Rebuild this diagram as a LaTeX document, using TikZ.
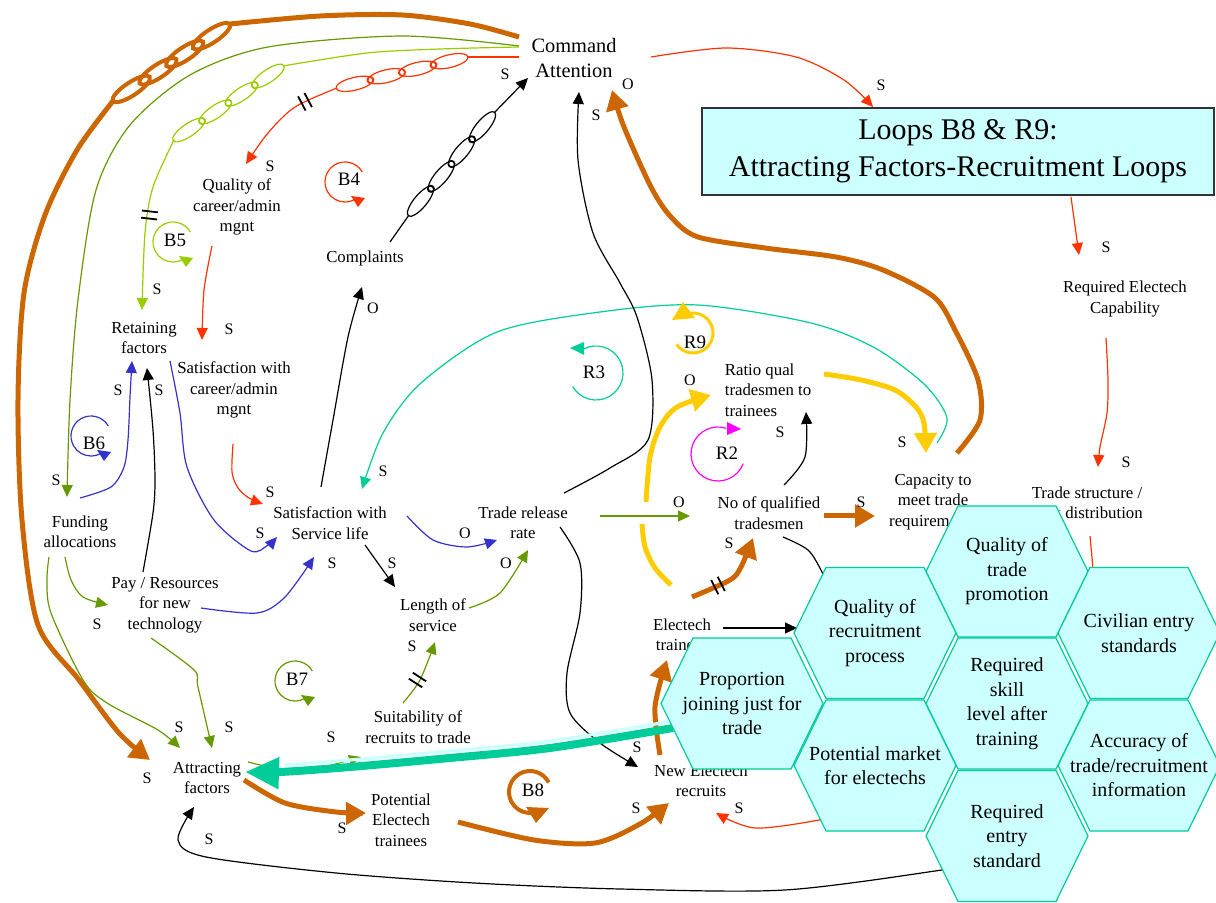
\documentclass[tikz,border=0pt]{standalone}
\usepackage{fontspec}
\setmainfont{Liberation Serif}
\usetikzlibrary{arrows.meta,calc,decorations.markings}
\pgfdeclarelayer{edges}
\pgfsetlayers{edges,main}

\definecolor{cOrange}{HTML}{CC6600}
\definecolor{cYellow}{HTML}{FFCC00}
\definecolor{cTeal}{HTML}{00CC99}
\definecolor{cRed}{HTML}{FF3300}
\definecolor{cYG}{HTML}{99CC00}
\definecolor{cOlive}{HTML}{669900}
\definecolor{cBlue}{HTML}{3333CC}
\definecolor{cMag}{HTML}{FF00FF}
\definecolor{cCyan}{HTML}{CCFFFF}

\tikzset{
  var/.style={font=\fontsize{8.4}{10.25}\selectfont, align=center, inner sep=0pt},
  pol/.style={font=\fontsize{8}{9}\selectfont, inner sep=0pt},
  looplbl/.style={font=\fontsize{9.5}{11}\selectfont, inner sep=0pt},
  hexlbl/.style={font=\fontsize{10}{12.25}\selectfont, align=center, inner sep=0pt},
  hexcell/.style={draw=cTeal, fill=cCyan, line width=0.6pt},
  link/.style={line width=0.6pt, -{Triangle[length=6pt,width=5.5pt]}},
  plain/.style={line width=0.6pt},
  fat/.style={line width=2.5pt, -{Triangle[length=10pt,width=11pt]}},
  fatplain/.style={line width=2.5pt},
  delaymark/.style={decoration={markings, mark=at position 0.5 with {%
      \draw[black, line width=0.9pt] (-1.8pt,-4pt) -- (-1.8pt,4pt) (1.8pt,-4pt) -- (1.8pt,4pt);}},
    decorate},
  chainfour/.style={decoration={markings,
      mark=at position 0.135 with {\draw[#1] (0,0) ellipse [x radius=9.5pt, y radius=3.2pt];},
      mark=at position 0.257 with {\draw[#1] (0,0) circle [radius=1.7pt];},
      mark=at position 0.38 with {\draw[#1] (0,0) ellipse [x radius=9.5pt, y radius=3.2pt];},
      mark=at position 0.5 with {\draw[#1] (0,0) circle [radius=1.7pt];},
      mark=at position 0.62 with {\draw[#1] (0,0) ellipse [x radius=9.5pt, y radius=3.2pt];},
      mark=at position 0.742 with {\draw[#1] (0,0) circle [radius=1.7pt];},
      mark=at position 0.865 with {\draw[#1] (0,0) ellipse [x radius=9.5pt, y radius=3.2pt];}},
    decorate},
  chainorange/.style={decoration={markings,
      mark=at position 0.157 with {\draw[cOrange, line width=2pt] (0,0) ellipse [x radius=11pt, y radius=3.3pt];},
      mark=at position 0.386 with {\draw[cOrange, line width=2pt] (0,0) ellipse [x radius=11pt, y radius=3.3pt];},
      mark=at position 0.614 with {\draw[cOrange, line width=2pt] (0,0) ellipse [x radius=11pt, y radius=3.3pt];},
      mark=at position 0.843 with {\draw[cOrange, line width=2pt] (0,0) ellipse [x radius=11pt, y radius=3.3pt];}},
    decorate},
  pics/bloop/.style={code={
      \draw (-30:20) arc[start angle=-30, end angle=-305, radius=20];
      \fill (6,14) -- (20,16) -- (13,25) -- cycle;}},
}

% one hexagonal factor cell: name, centre x, centre y, text
\newcommand\honeycell[4]{%
  \filldraw[hexcell] (#2-81,#3) -- (#2-49,#3-65.5) -- (#2+49,#3-65.5) -- (#2+81,#3)
    -- (#2+49,#3+65.5) -- (#2-49,#3+65.5) -- cycle;
  \node[hexlbl] (#1) at (#2,#3) {#4};}

\begin{document}
\begin{tikzpicture}[x=0.5pt, y=-0.5pt]
\useasboundingbox (0,0) rectangle (1216,903);

% ---------------- variables ----------------
\node[var, font=\fontsize{10.2}{12.5}\selectfont] (cmd) at (574,58) {Command\\Attention};
\node[var] (qcm) at (237,207) {Quality of\\career/admin\\mgnt};
\node[var] (comp) at (365,258) {Complaints};
\node[var] (ret) at (144,338) {Retaining\\factors};
\node[var] (scm) at (234,390) {Satisfaction with\\career/admin\\mgnt};
\node[var] (fund) at (80,532) {Funding\\allocations};
\node[var] (pay) at (165,605) {Pay / Resources\\for new\\technology};
\node[var] (ssl) at (330,523) {Satisfaction with\\Service life};
\node[var] (trr) at (523,523) {Trade release\\rate};
\node[var] (los) at (433,615) {Length of\\service};
\node[var] (suit) at (418,727) {Suitability of\\recruits to trade};
\node[var] (att) at (207,778) {Attracting\\factors};
\node[var] (pet) at (401,820) {Potential\\Electech\\trainees};
\node[var, align=left] (ratio) at (768,390) {Ratio qual\\tradesmen to\\trainees};
\node[var] (nqt) at (769,513) {No of qualified\\tradesmen};
\node[var] (cap) at (933,502) {Capacity to\\meet trade\\requirements};
\node[var] (rec) at (1125,299) {Required Electech\\Capability};
\node[var] (tsr) at (1087,503) {Trade structure /\\rank distribution};
\node[var] (etr) at (682,635) {Electech\\trainees};
\node[var] (ner) at (701,781) {New Electech\\recruits};

% ---------------- loop labels ----------------
\node[looplbl] (lB4) at (349,179) {B4};
\node[looplbl] (lB5) at (175,240) {B5};
\node[looplbl] (lB6) at (94,443) {B6};
\node[looplbl] (lB7) at (297,679) {B7};
\node[looplbl] (lB8) at (533,790) {B8};
\node[looplbl] (lR3) at (594,372) {R3};
\node[looplbl] (lR9) at (695,342) {R9};
\node[looplbl] (lR2) at (727,453) {R2};

% ---------------- polarity marks ----------------
\node[pol] (p1) at (505,74) {S};
\node[pol] (p2) at (628,84) {O};
\node[pol] (p3) at (596,115) {S};
\node[pol] (p4) at (881,85) {S};
\node[pol] (p5) at (270,166) {S};
\node[pol] (p6) at (157,289) {S};
\node[pol] (p7) at (229,329) {S};
\node[pol] (p8) at (118,390) {S};
\node[pol] (p9) at (159,390) {S};
\node[pol] (p10) at (373,308) {O};
\node[pol] (p11) at (56,480) {S};
\node[pol] (p12) at (270,492) {S};
\node[pol] (p13) at (260,533) {S};
\node[pol] (p14) at (383,471) {S};
\node[pol] (p15) at (332,563) {S};
\node[pol] (p16) at (392,563) {S};
\node[pol] (p17) at (465,533) {O};
\node[pol] (p18) at (506,563) {O};
\node[pol] (p19) at (97,624) {S};
\node[pol] (p20) at (179,727) {S};
\node[pol] (p21) at (229,727) {S};
\node[pol] (p22) at (147,778) {S};
\node[pol] (p23) at (331,737) {S};
\node[pol] (p24) at (412,646) {S};
\node[pol] (p25) at (342,828) {S};
\node[pol] (p26) at (209,839) {S};
\node[pol] (p27) at (636,808) {S};
\node[pol] (p28) at (637,747) {S};
\node[pol] (p29) at (739,808) {S};
\node[pol] (p30) at (679,502) {O};
\node[pol] (p31) at (729,543) {S};
\node[pol] (p32) at (690,380) {O};
\node[pol] (p33) at (780,432) {S};
\node[pol] (p34) at (902,442) {S};
\node[pol] (p35) at (861,502) {S};
\node[pol] (p36) at (1106,247) {S};
\node[pol] (p37) at (1126,462) {S};

% ---------------- honeycomb of factors ----------------
\honeycell{qtp}{1007}{571.5}{Quality of\\trade\\promotion}
\honeycell{qrp}{875}{633}{Quality of\\recruitment\\process}
\honeycell{civ}{1139}{633}{Civilian entry\\standards}
\honeycell{prop}{742}{703.5}{Proportion\\joining just for\\trade}
\honeycell{rsk}{1007}{703.5}{Required\\skill\\level after\\training}
\honeycell{pmk}{875}{765.5}{Potential market\\for electechs}
\honeycell{acc}{1139}{765.5}{Accuracy of\\trade/recruitment\\information}
\honeycell{res}{1007}{836}{Required\\entry\\standard}

% ---------------- title ----------------
\node[draw=black!80, fill=cCyan, line width=0.6pt, minimum width=256pt, minimum height=43.5pt,
      inner sep=0pt, align=center, font=\fontsize{15}{18.5}\selectfont]
  (title) at (958,151.5) {Loops B8 \& R9:\\Attracting Factors-Recruitment Loops};

% ---------------- connectors ----------------
\begin{pgfonlayer}{edges}
\coordinate (chO1) at (113,101);
\coordinate (chO2) at (230,24);
\coordinate (chG1) at (174,140);
\coordinate (chG2) at (283,66);
\coordinate (chR1) at (337,88);
\coordinate (chR2) at (467,57);
\coordinate (chK1) at (409,215);
\coordinate (chK2) at (494,113);
\coordinate (yb1) at (642,524);
\coordinate (yb2) at (646,502);
\coordinate (hidT) at (1095,590);
\coordinate (hidN) at (835,600);
\coordinate (hidR) at (840,812);
\coordinate (hidB) at (958,866);

% Command Attention -> Attracting factors
\draw[fatplain, cOrange] plot[smooth] coordinates {($(cmd)+(-55,-21)$) (470,24) (402,15) (320,16) (chO2)};
\path[chainorange] (chO1) -- (chO2);
\draw[fat, cOrange] plot[smooth] coordinates {(chO1) (77,150) (45,215) (24,293) (18,400) (22,520) (38,625) (79,680) (119,733) ($(att)+(-57,-18)$)};

% Command Attention -> Funding allocations
\draw[link, cOlive] plot[smooth] coordinates {($(cmd)+(-55,-12)$) (402,36) (268,47) (190,75) (130,125) (96,190) (78,300) (70,400) ($(fund)+(-13,-35)$)};

% Command Attention -> Retaining factors
\draw[plain, cYG] plot[smooth] coordinates {($(cmd)+(-55,-11)$) (440,49) (367,53) (chG2)};
\path[chainfour={cYG, line width=0.6pt}] (chG1) -- (chG2);
\draw[link, cYG] plot[smooth] coordinates {(chG1) (153,187) (145,233) ($(ret)+(-2,-28)$)};
\path[delaymark] (150.4,207) -- (148.6,223);

% Command Attention -> Quality of career/admin mgnt
\draw[plain, cRed] ($(cmd)+(-55,-1)$) -- (chR2);
\path[chainfour={cRed, line width=0.6pt}] (chR1) -- (chR2);
\draw[link, cRed] plot[smooth] coordinates {(chR1) (295,107) (268,133) ($(qcm)+(9,-43)$)};
\path[delaymark] (296,106.5) -- (314,97);

% Complaints -> Command Attention
\draw[plain] ($(comp)+(25,-16)$) -- (chK1);
\path[chainfour={black, line width=0.6pt}] (chK1) -- (chK2);
\draw[link] (chK2) -- ($(cmd)+(-46,20)$);

% career/admin chain
\draw[link, cRed] plot[smooth] coordinates {($(qcm)+(-25,39)$) (204,290) ($(scm)+(-32,-50)$)};
\draw[link, cRed] plot[smooth] coordinates {($(scm)+(-1,54)$) (232,472) (238,488) (249,498) ($(ssl)+(-67,-19)$)};

% retaining / funding / pay
\draw[link, cBlue] plot[smooth] coordinates {($(ret)+(26,23)$) (180,413) (187,467) (214,520) (251,551) (268,545) ($(ssl)+(-53,14)$)};
\draw[link, cBlue] plot[smooth] coordinates {($(fund)+(0,-34)$) (111,487) (124,467) (128,440) (130,397) ($(ret)+(-12,23)$)};
\draw[link] plot[smooth] coordinates {($(pay)+(-22,-33)$) (153,513) (155,480) (153,430) ($(ret)+(3,30)$)};
\draw[link, cBlue] plot[smooth] coordinates {($(pay)+(36,3)$) (257,613) (285,597) ($(ssl)+(-16,34)$)};
\draw[link, cOlive] plot[smooth] coordinates {($(fund)+(-15,25)$) (71,580) (83,597) ($(pay)+(-57,0)$)};
\draw[link, cOlive] plot[smooth] coordinates {($(fund)+(-31,25)$) (47,580) (51,613) (83,680) (107,703) (158,730) ($(att)+(-27,-30)$)};
\draw[link, cOlive] plot[smooth] coordinates {($(pay)+(-14,33)$) (194,670) (198,687) ($(att)+(5,-30)$)};

% service life
\draw[link] plot[smooth] coordinates {($(ssl)+(-9,-36)$) (333,420) (348,337) ($(comp)+(-3,29)$)};
\draw[link, cTeal] plot[smooth] coordinates {($(cap)+(4,-59)$) (947,418) (925,385) (875,348) (811,323) (698,305) (600,312) (497,332) (421,383) (383,433) ($(ssl)+(32,-34)$)};
\draw[link, cBlue] plot[smooth] coordinates {($(ssl)+(77,-7)$) (433,540) (467,547) ($(trr)+(-26,17)$)};
\draw[link] ($(ssl)+(35,22)$) -- ($(los)+(-38,-28)$);
\draw[link, cOlive] plot[smooth] coordinates {($(los)+(36,-7)$) (500,593) ($(trr)+(5,27)$)};
\draw[link, cOlive] plot[smooth] coordinates {($(suit)+(-15,-24)$) (420,680) ($(los)+(2,27)$)};
\path[delaymark] (411,690) -- (424,670);

% trade release rate
\draw[link] plot[smooth] coordinates {($(trr)+(37,4)$) (580,563) (580,613) (567,673) (570,713) (600,743) ($(ner)+(-63,-14)$)};
\draw[link, cOlive] ($(trr)+(77,-7)$) -- ($(nqt)+(-79,3)$);
\draw[link] plot[smooth] coordinates {($(trr)+(41,-30)$) (610,468) (648,440) (652,380) (637,317) (620,283) (593,233) (578,160) ($(cmd)+(5,34)$)};

% capacity -> command attention
\draw[fat, cOrange] plot[smooth] coordinates {($(cap)+(24,-49)$) (980,420) (978,380) (955,330) (934,297) (883,270) (836,257) (765,248) (698,237) (671,217) (651,187) (624,127) ($(cmd)+(38,32)$)};

% requirement chain on the right
\draw[link, cRed] plot[smooth] coordinates {($(cmd)+(77,-1)$) (726,48) (796,57) (844,80) ($(title)+(-85,-44.5)$)};
\draw[link, cRed] ($(title)+(113,45.5)$) -- ($(rec)+(-46,-44)$);
\draw[link, cRed] plot[smooth] coordinates {($(rec)+(-19,39)$) (1108,380) (1107,413) (1100,447) ($(tsr)+(11,-36)$)};
\draw[plain, cRed] ($(tsr)+(3,33)$) -- (hidT);

% tradesmen and trainees
\draw[fat, cOrange] ($(nqt)+(55,3)$) -- ($(cap)+(-58,14)$);
\draw[fat, cYellow] plot[smooth] coordinates {($(ratio)+(56,-16)$) (861,380) (895,390) (916,407) (924,423) ($(cap)+(-7,-49)$)};
\draw[fatplain, cYellow] plot[smooth] coordinates {($(etr)+(-11,-50)$) (655,568) (645,547) (yb1)};
\draw[fat, cYellow] plot[smooth] coordinates {(yb2) (650,457) (660,427) (677,407) ($(ratio)+(-57,5)$)};
\draw[link] plot[smooth] coordinates {($(nqt)+(15,-28)$) (805,457) ($(ratio)+(38,22)$)};
\draw[fat, cOrange] plot[smooth] coordinates {($(etr)+(10,-38)$) (730,580) (741,567) ($(nqt)+(-16,25)$)};
\path[delaymark] (709,590) -- (727,581);
\draw[link] ($(etr)+(41,-7)$) -- ($(qrp)+(-78,-5)$);
\draw[plain] plot[smooth] coordinates {($(nqt)+(14,24)$) (808,550) (822,572) (hidN)};
\draw[fat, cOrange] plot[smooth] coordinates {($(ner)+(-41,-26)$) (655,707) ($(etr)+(-15,25)$)};

% recruitment along the bottom
\draw[fat, cOrange] plot[smooth] coordinates {($(att)+(37,2)$) (285,803) (336,812) ($(pet)+(-35,-7)$)};
\draw[fat, cOrange] plot[smooth] coordinates {($(pet)+(57,2)$) (534,840) (595,843) (640,824) ($(ner)+(-32,22)$)};
\draw[link, cOlive] plot[smooth] coordinates {($(att)+(41,-16)$) (300,771) ($(suit)+(-57,30)$)};
\draw[link, cRed] plot[smooth] coordinates {(hidR) (819,820) (755,828) ($(ner)+(15,32)$)};
\draw[link] plot[smooth] coordinates {(hidB) (942,870) (785,890) (620,889) (474,883) (336,873) (206,857) (178,840) ($(att)+(-13,29)$)};

% proportion joining just for trade -> attracting factors
\draw[cCyan, line width=1.6pt] plot[smooth] coordinates {(673,721) (550,741) (450,751) (350,760) (285,765)};
\draw[cTeal, line width=4pt, -{Triangle[length=17pt,width=15pt]}] plot[smooth] coordinates {($(prop)+(-69,24.5)$) (550,748) (450,758) (350,767) (280,772) ($(att)+(38,-6)$)};

% loop symbols
\pic[cRed, line width=0.6pt] at (345,182) {bloop};
\pic[cYG, line width=0.6pt] at (173,242) {bloop};
\pic[cBlue, line width=0.6pt] at (91,436) {bloop};
\pic[cOlive, line width=0.6pt] at (295,681) {bloop};
\begin{scope}[shift={(530,792)}, cOrange]
  \draw[line width=2pt] (-27:21) arc[start angle=-27, end angle=-300, radius=21];
  \fill (-4,15) -- (19,16) -- (6,31) -- cycle;
\end{scope}
\begin{scope}[shift={(596,373)}, cTeal]
  \draw[line width=0.6pt] (150:27) arc[start angle=150, end angle=-117, radius=27];
  \fill (-26,-25) -- (-12,-31) -- (-12,-18) -- cycle;
\end{scope}
\begin{scope}[shift={(693,333)}, cYellow]
  \draw[line width=1.5pt] (145:20) arc[start angle=145, end angle=-108, radius=20];
  \fill (-10,-31) -- (-21,-13) -- (2,-15) -- cycle;
\end{scope}
\begin{scope}[shift={(718,454)}, cMag]
  \draw[line width=0.6pt] (21:27) arc[start angle=21, end angle=288, radius=27];
  \fill (23,-25) -- (9,-32) -- (9,-19) -- cycle;
\end{scope}
\end{pgfonlayer}
\end{tikzpicture}
\end{document}
